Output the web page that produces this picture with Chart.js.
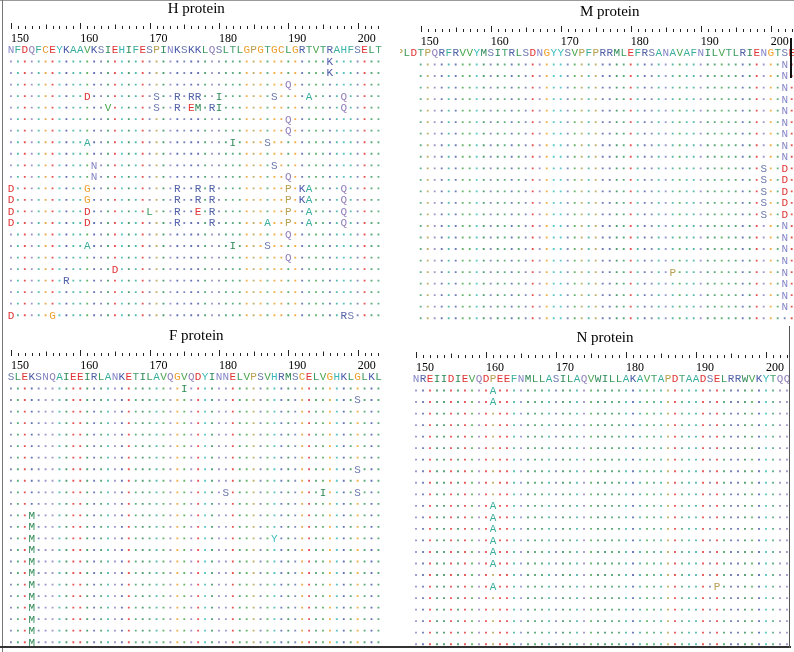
<!DOCTYPE html>
<html>
<head>
<meta charset="utf-8">
<script src="https://cdn.jsdelivr.net/npm/chart.js@4"></script>
<style>
  body { margin: 0; width: 794px; height: 652px; overflow: hidden; background: #fff; position: relative; }
  .panel { position: absolute; width: 410px; height: 325px; }
  .rule { position: absolute; }
</style>
</head>
<body>
<div class="panel" style="left:0;top:0"><canvas id="chartH" width="410" height="325"></canvas></div>
<div class="panel" style="left:400px;top:3px"><canvas id="chartM" width="410" height="325"></canvas></div>
<div class="panel" style="left:0;top:327px"><canvas id="chartF" width="410" height="325"></canvas></div>
<div class="panel" style="left:400px;top:329px"><canvas id="chartN" width="410" height="325"></canvas></div>
<div class="rule" style="left:0;top:0;width:794px;height:1px;background:#999"></div>
<div class="rule" style="left:2px;top:0;width:1px;height:652px;background:#777"></div>
<div class="rule" style="left:0;top:646px;width:791px;height:2px;background:#333"></div>
<div class="rule" style="left:789px;top:326px;width:1px;height:322px;background:#555"></div>
<div class="rule" style="left:790px;top:38px;width:2px;height:40px;background:#111"></div>
<script>
// residue positions shown on the axis
const TICKS = [150, 160, 170, 180, 190, 200];
const FIRST_POS = 150;
const LAST_POS = 203;

// reference sequences (first residue number, sequence)
const H_START = 150;
const H_REF = "NFDQFCEYKAAVKSIEHIFESPINKSKKLQSLTLGPGTGCLGRTVTRAHFSELT";
const M_START = 147;
const M_REF = "PLDTPQRFRVVYMSITRLSDNGYYSVPFPRRMLEFRSANAVAFNILVTLRIENGTSE";
const F_START = 150;
const F_REF = "SLEKSNQAIEEIRLANKETILAVQGVQDYINNELVPSVHRMSCELVGHKLGLKL";
const N_START = 150;
const N_REF = "NREIIDIEVQDPEEFNMLLASILAQVWILLAKAVTAPDTAADSELRRWVKYTQQ";

// substitutions per aligned strain, "position + residue"; everything else is "."
const H_MUTS = [
  ["196K"], ["196K"], ["190Q"],
  ["161D", "171S", "174R", "176R", "177R", "180I", "188S", "193A", "198Q"],
  ["164V", "171S", "174R", "176E", "177M", "179R", "180I", "198Q"],
  ["190Q"], ["190Q"],
  ["161A", "182I", "187S"],
  [],
  ["162N", "188S"],
  ["162N", "190Q"],
  ["150D", "161G", "174R", "177R", "179R", "190P", "192K", "193A", "198Q"],
  ["150D", "161G", "174R", "177R", "179R", "190P", "192K", "193A", "198Q"],
  ["150D", "161D", "170L", "174R", "177E", "179R", "190P", "193A", "198Q"],
  ["150D", "161D", "174R", "179R", "187A", "190P", "193A", "198Q"],
  ["190Q"],
  ["161A", "182I", "187S"],
  ["190Q"],
  ["165D"],
  ["158R"],
  [], [],
  ["150D", "156G", "198R", "199S"]
];
const M_MUTS = [
  ["202N"], ["202N"], ["202N"], ["202N"], ["202N"], ["202N"], ["202N"], ["202N"], ["202N"],
  ["199S", "202D"], ["199S", "202D"], ["199S", "202D"], ["199S", "202D"], ["199S", "202D"],
  ["202N"], ["202N"], ["202N"], ["202N"],
  ["186P", "202N"],
  ["202N"], ["202N"], ["202N"],
  []
];
const F_MUTS = [
  ["175I"], ["200S"], [], [], [], [], [], ["200S"], [],
  ["181S", "195I", "200S"],
  [],
  ["153M"], ["153M"], ["153M", "188Y"], ["153M"], ["153M"], ["153M"],
  ["153M"], ["153M"], ["153M"], ["153M"], ["153M"], ["153M"]
];
const N_MUTS = [
  ["161A"], ["161A"], [], [], [], [], [], [], [], [],
  ["161A"], ["161A"], ["161A"], ["161A"], ["161A"], ["161A"],
  [],
  ["161A", "193P"],
  [], [], [], [], []
];

// residue colours
const RES_COLORS = {
  A: "#3aae9c", R: "#5262a8", N: "#8585c8", D: "#e03434", C: "#e59a30",
  Q: "#9482bc", E: "#e03434", G: "#eea02c", H: "#3cb6b6", I: "#2f8a58",
  L: "#3a9a5c", K: "#4656a6", M: "#2f8a58", F: "#3aae9c", P: "#b8a050",
  S: "#6a78ac", T: "#45a270", W: "#2f8a58", Y: "#3cbcbc", V: "#4aa650"
};

const SEQ_FONT = '11px "Liberation Mono", monospace';

// draws the residue letters and the tick marks on top of the dot grid
const seqPlugin = {
  id: "seq",
  afterDatasetsDraw(chart, args, opts) {
    const { ctx } = chart;
    const x = chart.scales.x;
    const y = chart.scales.y;
    ctx.save();
    ctx.font = SEQ_FONT;
    ctx.textAlign = "center";
    ctx.textBaseline = "middle";
    for (let i = 0; i < opts.ref.length; i++) {
      const c = opts.ref[i];
      ctx.fillStyle = RES_COLORS[c];
      ctx.fillText(c, x.getPixelForValue(opts.start + i), y.getPixelForValue(0) + 0.5);
    }
    opts.muts.forEach((row, r) => {
      row.forEach(m => {
        const pos = parseInt(m, 10);
        const c = m.replace(/[0-9]/g, "");
        ctx.fillStyle = RES_COLORS[c];
        ctx.fillText(c, x.getPixelForValue(pos), y.getPixelForValue(r + 1) + 0.5);
      });
    });
    // tick marks above the labels
    ctx.strokeStyle = "#222";
    ctx.lineWidth = 1;
    const base = x.top + 11;
    for (let p = FIRST_POS; p <= LAST_POS; p++) {
      const px = Math.round(x.getPixelForValue(p)) + 0.5;
      const len = p % 10 === 0 ? 6 : (p % 5 === 0 ? 4.5 : 3);
      ctx.beginPath();
      ctx.moveTo(px, base);
      ctx.lineTo(px, base - len);
      ctx.stroke();
    }
    ctx.restore();
  }
};

function createPanel(canvasId, title, ref, start, muts, padLeft) {
  const dots = [];
  const dotColors = [];
  muts.forEach((row, r) => {
    const changed = row.map(m => parseInt(m, 10));
    for (let p = FIRST_POS; p <= LAST_POS; p++) {
      if (changed.includes(p)) continue;
      dots.push({ x: p, y: r + 1 });
      dotColors.push((RES_COLORS[ref[p - start]] || "#888888") + "d8");
    }
  });
  new Chart(document.getElementById(canvasId), {
    type: "scatter",
    data: {
      datasets: [{
        data: dots,
        backgroundColor: dotColors,
        borderWidth: 0,
        pointStyle: "rect",
        pointRadius: 1.3
      }]
    },
    options: {
      responsive: false,
      animation: false,
      devicePixelRatio: 1,
      events: [],
      layout: { padding: { left: padLeft, right: 410 - padLeft - 392, top: 0, bottom: 2.4 } },
      plugins: {
        legend: { display: false },
        tooltip: { enabled: false },
        title: {
          display: true,
          text: title,
          color: "#000",
          font: { family: "Liberation Serif", size: 15, weight: "normal" },
          padding: { top: 0, bottom: 0 }
        },
        seq: { ref: ref, start: start, muts: muts }
      },
      scales: {
        x: {
          type: "linear",
          position: "top",
          min: 149,
          max: 205,
          afterBuildTicks: s => { s.ticks = TICKS.map(v => ({ value: v })); },
          afterFit: s => { s.height = 28.5; },
          grid: { display: false, drawTicks: false },
          border: { display: false },
          ticks: {
            align: "start",
            padding: 0,
            color: "#000",
            font: { family: "Liberation Serif", size: 12 }
          }
        },
        y: { type: "linear", reverse: true, min: -0.3, max: 23.5, display: false }
      }
    },
    plugins: [seqPlugin]
  });
}

createPanel("chartH", "H protein", H_REF, H_START, H_MUTS, 0.3);
createPanel("chartM", "M protein", M_REF, M_START, M_MUTS, 13.7);
createPanel("chartF", "F protein", F_REF, F_START, F_MUTS, 0.3);
createPanel("chartN", "N protein", N_REF, N_START, N_MUTS, 9);
</script>
</body>
</html>
